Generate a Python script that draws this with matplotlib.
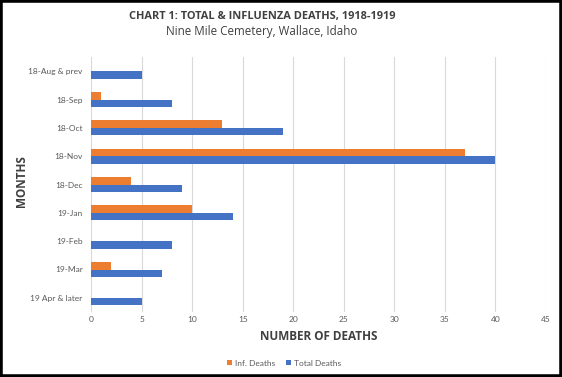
import matplotlib
matplotlib.use("Agg")
import matplotlib.pyplot as plt
import numpy as np
from matplotlib.patches import Rectangle

plt.rcParams['font.family'] = ['Lato', 'DejaVu Sans']

months = ["18-Aug & prev", "18-Sep", "18-Oct", "18-Nov", "18-Dec",
          "19-Jan", "19-Feb", "19-Mar", "19 Apr & later"]
inf_deaths = [0, 1, 13, 37, 4, 10, 0, 2, 0]
total_deaths = [5, 8, 19, 40, 9, 14, 8, 7, 5]
xticks = [0, 5, 10, 15, 20, 25, 30, 35, 40, 45]

W, H = 562, 377
fig = plt.figure(figsize=(W / 100, H / 100), dpi=100)
ax = fig.add_axes([91 / W, 1 - 312 / H, (546 - 91) / W, (312 - 57) / H])

y = np.arange(len(months))
bh = 0.27
ax.barh(y - bh / 2, inf_deaths, height=bh, color="#ED7D31", label="Inf. Deaths", zorder=3)
ax.barh(y + bh / 2, total_deaths, height=bh, color="#4472C4", label="Total Deaths", zorder=3)

ax.set_ylim(len(months) - 0.5, -0.5)
ax.set_xlim(0, 45)
ax.set_xticks(xticks)
ax.set_yticks(y)
ax.set_yticklabels(months)
ax.tick_params(axis='both', length=0, labelsize=6, colors="#595959")
ax.tick_params(axis='x', pad=3)
ax.tick_params(axis='y', pad=6)
ax.grid(axis='x', color="#D9D9D9", linewidth=0.8, zorder=0)
for s in ax.spines.values():
    s.set_visible(False)

bold = dict(family=['Open Sans', 'DejaVu Sans'], fontweight='bold', color="#404040")
fig.text(318.5 / W, 1 - 336 / H, "NUMBER OF DEATHS", ha='center', va='center', fontsize=8.5, **bold)
fig.text(22 / W, 1 - 181 / H, "MONTHS", ha='center', va='center', rotation=90, fontsize=8.5, **bold)

fig.text(262 / W, 1 - 17 / H, "CHART 1: TOTAL & INFLUENZA DEATHS, 1918-1919", ha='center', va='center',
         fontsize=7.9, **bold)
fig.text(262 / W, 1 - 32 / H, "Nine Mile Cemetery, Wallace, Idaho", ha='center', va='center',
         fontsize=8.4, family=['Open Sans', 'DejaVu Sans'], color="#404040")

fig.legend(loc='center', bbox_to_anchor=(284 / W, 1 - 363 / H), ncol=2, frameon=False,
           fontsize=6, handlelength=0.6, handleheight=0.6, columnspacing=1.2,
           handletextpad=0.4, labelcolor="#595959")

# black frame
fig.patches.append(Rectangle((0, 0), 1, 1, transform=fig.transFigure, fill=False,
                             edgecolor="black", linewidth=4, zorder=10))

fig.savefig("out.png", dpi=100)
